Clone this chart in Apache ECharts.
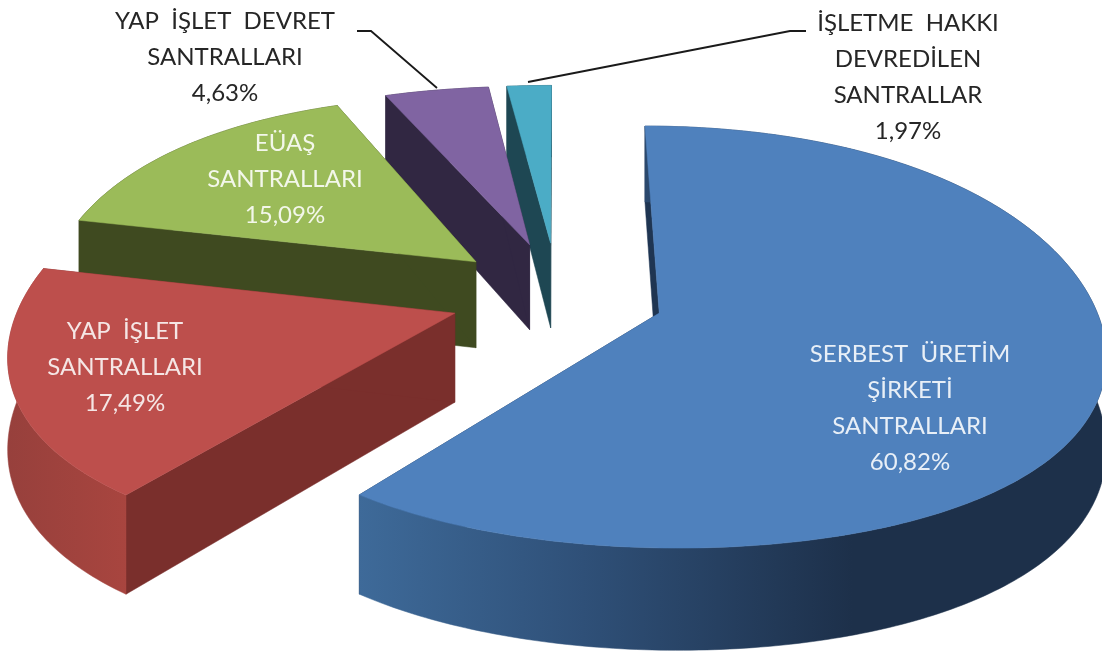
<!DOCTYPE html>
<html>
<head>
<meta charset="utf-8">
<style>
  html, body { margin: 0; padding: 0; background: #fff; }
  #chart { width: 1102px; height: 654px; }
</style>
<script src="https://cdn.jsdelivr.net/npm/echarts@6/dist/echarts.min.js"></script>
</head>
<body>
<div id="chart"></div>
<script>
// veriler
const categories = ['SERBEST  ÜRETİM\nŞİRKETİ\nSANTRALLARI', 'YAP  İŞLET\nSANTRALLARI', 'EÜAŞ\nSANTRALLARI', 'YAP  İŞLET  DEVRET\nSANTRALLARI', 'İŞLETME  HAKKI\nDEVREDİLEN\nSANTRALLAR']
const shares = [60.82, 17.49, 15.09, 4.63, 1.97]

// renkler
const faceColors = ['#4f81bd', '#bd4f4c', '#9bbb59', '#8064a2', '#4bacc6']
const edgeColors = ['#1f3552', '#7a2f2c', '#3f4a20', '#312742', '#1e4753']
const wallStops = [
  [[0, '#3e6a99'], [0.3, '#2f5078'], [0.66, '#1d304a'], [1, '#1d304a']],
  [[0, '#97403c'], [1, '#a8453f']],
  [[0, '#3f4a20'], [1, '#3f4a20']],
  [[0, '#312742'], [1, '#312742']],
  [[0, '#1e4753'], [1, '#1e4753']]
]
const labelColors = ['#e8eff7', '#f5e6e5', '#f3f7ea', '#262626', '#262626']
const labelPos = [[910, 354], [125, 331], [285, 143], [225, 21], [908, 23]]

// 3B görünüm ayarları
const centerX = 557
const centerY = 295
const scaleX = 428
const explode = 0.25
const radius = 1.01

function project(u, v) {
  return [
    centerX + scaleX * u * (1 + 0.16 * v + 0.0235 * v * v),
    centerY + 215 * v + 26 * v * v - 10 * v * v * v
  ]
}
function depth(v) {
  return 88 + 13 * v
}

const total = shares.reduce((a, b) => a + b, 0)

function renderSlice(params, api) {
  const idx = api.value(0)
  let start = 0
  for (let i = 0; i < idx; i++) start += shares[i]
  const a0 = start / total * Math.PI * 2
  const a1 = (start + shares[idx]) / total * Math.PI * 2
  const mid = (a0 + a1) / 2
  const ou = explode * Math.sin(mid)
  const ov = -explode * Math.cos(mid)

  // yay noktaları
  const arc = []
  const steps = Math.ceil((a1 - a0) / 0.015)
  for (let s = 0; s <= steps; s++) {
    const a = a0 + (a1 - a0) * s / steps
    arc.push([ou + radius * Math.sin(a), ov - radius * Math.cos(a)])
  }
  const top = (p) => project(p[0], p[1])
  const bottom = (p) => {
    const q = project(p[0], p[1])
    return [q[0], q[1] + depth(p[1])]
  }
  const apex = [ou, ov]
  const first = arc[0]
  const last = arc[arc.length - 1]

  const wallPts = arc.map(top).concat(arc.slice().reverse().map(bottom))
  const poly = (points, fill) => ({
    type: 'polygon',
    shape: { points: points },
    style: { fill: fill, stroke: fill, lineWidth: 0.5 }
  })
  return {
    type: 'group',
    children: [
      poly([top(apex), top(first), bottom(first), bottom(apex)], edgeColors[idx]),
      poly([top(apex), top(last), bottom(last), bottom(apex)], edgeColors[idx]),
      poly(wallPts, {
        type: 'linear', x: 0, y: 0, x2: 1, y2: 0,
        colorStops: wallStops[idx].map((s) => ({ offset: s[0], color: s[1] }))
      }),
      poly([top(apex)].concat(arc.map(top)), faceColors[idx])
    ]
  }
}

const graphics = categories.map((name, i) => ({
  type: 'text',
  x: labelPos[i][0],
  y: labelPos[i][1] - 18,
  style: {
    text: name + '\n' + shares[i].toFixed(2).replace('.', ',') + '%',
    fill: labelColors[i],
    font: '24px Lato',
    lineHeight: 36,
    align: 'center',
    verticalAlign: 'top'
  },
  z: 10
}))
// kılavuz çizgileri
graphics.push({
  type: 'polyline',
  shape: { points: [[357, 31], [371, 31], [437, 88]] },
  style: { fill: null, stroke: '#1a1a1a', lineWidth: 1.8 },
  z: 10
})
graphics.push({
  type: 'polyline',
  shape: { points: [[528, 82], [790, 31], [806, 31]] },
  style: { fill: null, stroke: '#1a1a1a', lineWidth: 1.8 },
  z: 10
})

const chart = echarts.init(document.getElementById('chart'))
chart.setOption({
  animation: false,
  backgroundColor: '#fff',
  series: [{
    type: 'custom',
    coordinateSystem: 'none',
    renderItem: renderSlice,
    // arkadan öne doğru çizim
    data: shares.map((v, i) => [i, v]).reverse()
  }],
  graphic: graphics
})
</script>
</body>
</html>
